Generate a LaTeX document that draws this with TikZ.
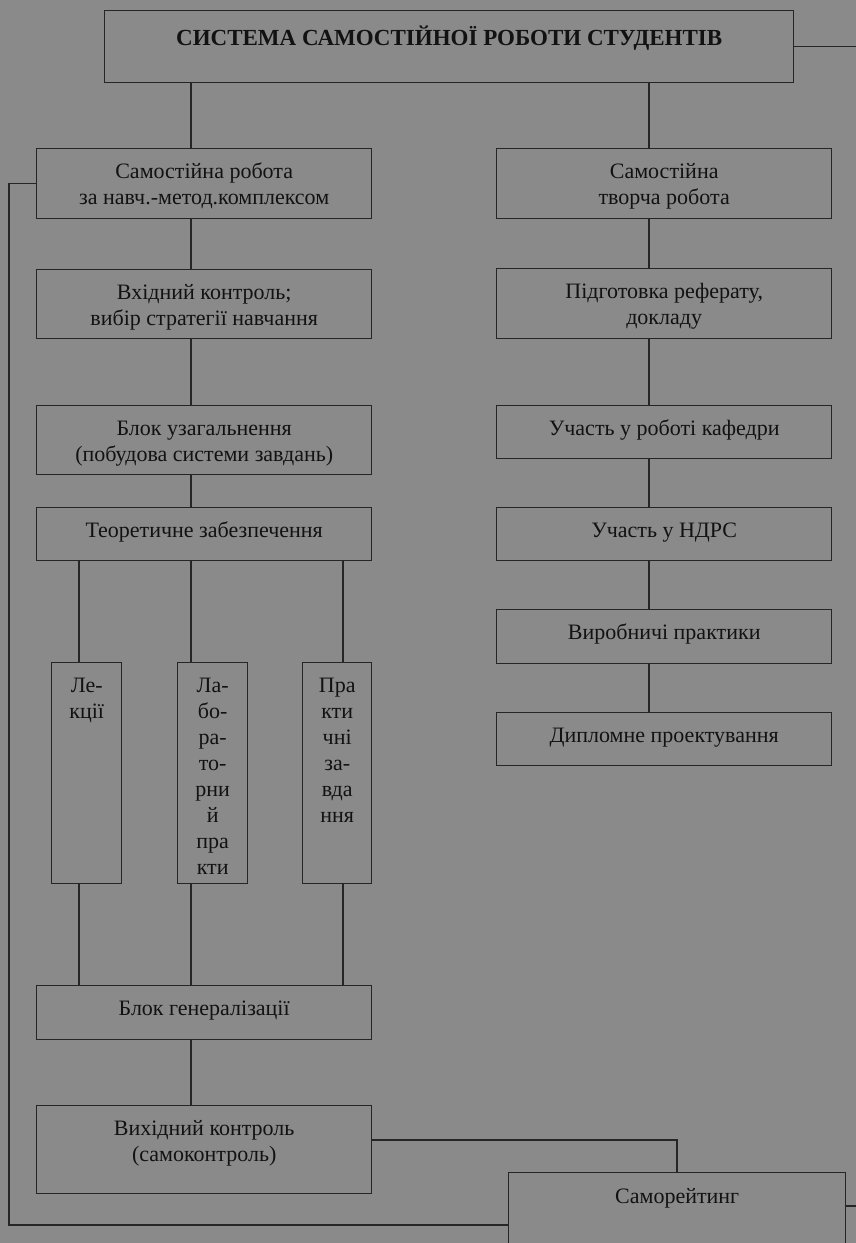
\documentclass[tikz,border=0pt]{standalone}
\usepackage{fontspec}
\setmainfont{Liberation Serif}
\definecolor{bg}{RGB}{138,138,138}
\definecolor{ln}{RGB}{38,38,38}
\definecolor{tx}{RGB}{18,18,18}
\newcommand\bt[4][11.3pt]{\parbox[c][#3pt][t]{#2pt}{\centering\vspace*{#1}\strut#4}}
\begin{document}
\begin{tikzpicture}[x=1pt,y=-1pt,
  box/.style={draw=ln, line width=1.4pt, inner sep=0pt, anchor=north west, text=tx,
    font=\fontsize{22}{26}\selectfont},
  conn/.style={draw=ln, line width=1.2pt}]
\fill[bg] (0,0) rectangle (856,1243);
\useasboundingbox (0,0) rectangle (856,1243);
% title
\node[box] (top) at (104,10) {\bt[14.8pt]{689}{72}{\bfseries\fontsize{23}{26}\selectfont СИСТЕМА САМОСТІЙНОЇ РОБОТИ СТУДЕНТІВ}};
% left column
\node[box] (ssr) at (36,148) {\bt{335}{70}{Самостійна робота\\за навч.-метод.комплексом}};
\node[box] (vh) at (36,269) {\bt{335}{69}{Вхідний контроль;\\вибір стратегії навчання}};
\node[box] (bu) at (36,405) {\bt{335}{69}{Блок узагальнення\\(побудова системи завдань)}};
\node[box] (te) at (36,507) {\bt{335}{53}{Теоретичне забезпечення}};
\node[box] (lek) at (51,662) {\bt{70}{221}{Ле-\\кції}};
\node[box] (lab) at (177,662) {\bt{70}{221}{Ла-\\бо-\\ра-\\то-\\рни\\й\\пра\\кти}};
\node[box] (pra) at (302,662) {\bt{69}{221}{Пра\\кти\\чні\\за-\\вда\\ння}};
\node[box] (bg) at (36,985) {\bt{335}{54}{Блок генералізації}};
\node[box] (vk) at (36,1105) {\bt{335}{88}{Вихідний контроль\\(самоконтроль)}};
\node[box] (sr) at (508,1172) {\bt[13pt]{337}{90}{Саморейтинг}};
% right column
\node[box] (ssr2) at (496,148) {\bt{335}{70}{Самостійна\\творча робота}};
\node[box] (pd) at (496,268) {\bt{335}{70}{Підготовка реферату,\\докладу}};
\node[box] (uk) at (496,405) {\bt{335}{53}{Участь у роботі кафедри}};
\node[box] (ndrs) at (496,507) {\bt{335}{53}{Участь у НДРС}};
\node[box] (vp) at (496,609) {\bt{335}{54}{Виробничі практики}};
\node[box] (dp) at (496,712) {\bt{335}{53}{Дипломне проектування}};
% helper coordinates
\coordinate (L) at (191,0);
\coordinate (R) at (649,0);
\coordinate (c1) at (79,0);
\coordinate (c3) at (343,0);
\coordinate (fl) at (9,0);
\coordinate (fb) at (0,1225);
\coordinate (vy) at (0,1140);
\coordinate (sx) at (677,0);
\coordinate (re) at (856,0);
\coordinate (sy) at (0,1206);
% left column connectors
\draw[conn] (top.south -| L) -- (ssr.north -| L);
\draw[conn] (ssr.south -| L) -- (vh.north -| L);
\draw[conn] (vh.south -| L) -- (bu.north -| L);
\draw[conn] (bu.south -| L) -- (te.north -| L);
\draw[conn] (te.south -| c1) -- (lek.north -| c1);
\draw[conn] (te.south -| L) -- (lab.north -| L);
\draw[conn] (te.south -| c3) -- (pra.north -| c3);
\draw[conn] (lek.south -| c1) -- (bg.north -| c1);
\draw[conn] (lab.south -| L) -- (bg.north -| L);
\draw[conn] (pra.south -| c3) -- (bg.north -| c3);
\draw[conn] (bg.south -| L) -- (vk.north -| L);
% right column connectors
\draw[conn] (top.south -| R) -- (ssr2.north -| R);
\draw[conn] (ssr2.south -| R) -- (pd.north -| R);
\draw[conn] (pd.south -| R) -- (uk.north -| R);
\draw[conn] (uk.south -| R) -- (ndrs.north -| R);
\draw[conn] (ndrs.south -| R) -- (vp.north -| R);
\draw[conn] (vp.south -| R) -- (dp.north -| R);
% feedback and side lines
\draw[conn] (ssr.west) -- (ssr.west -| fl) -- (fl |- fb) -- (sr.west |- fb);
\draw[conn] (vk.east |- vy) -- (sx |- vy) -- (sr.north -| sx);
\draw[conn] (top.east) -- (top.east -| re);
\draw[conn] (sr.east |- sy) -- (re |- sy);
\end{tikzpicture}
\end{document}
